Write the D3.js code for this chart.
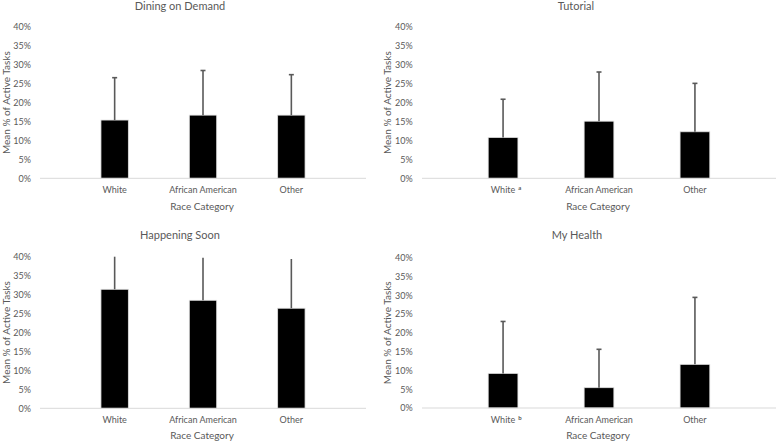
<!DOCTYPE html>
<html>
<head>
<meta charset="utf-8">
<script src="https://cdn.jsdelivr.net/npm/d3@7"></script>
<style>
  html, body { margin: 0; padding: 0; background: #fff; }
  svg { display: block; }
  text { font-family: Lato, "Liberation Sans", sans-serif; fill: #595959; }
</style>
</head>
<body>
<svg id="chart" width="778" height="443"></svg>
<script>
// ---- data ----
const categories = ["White", "African American", "Other"];
const yTicks = [0, 5, 10, 15, 20, 25, 30, 35, 40];
const panelTitles = ["Dining on Demand", "Tutorial", "Happening Soon", "My Health"];
const superscripts = [["", "", ""], ["a", "", ""], ["", "", ""], ["b", "", ""]];
const diningMeans = [15.4, 16.7, 16.7];
const diningErrTops = [26.6, 28.5, 27.4];
const tutorialMeans = [10.8, 15.1, 12.3];
const tutorialErrTops = [20.9, 28.1, 25.1];
const happeningMeans = [31.4, 28.5, 26.4];
const happeningErrTops = [40.1, 39.7, 39.4];
const healthMeans = [9.2, 5.4, 11.6];
const healthErrTops = [23.0, 15.6, 29.4];
const yAxisTitle = "Mean % of Active Tasks";
const xAxisTitle = "Race Category";

const panelMeans = [diningMeans, tutorialMeans, happeningMeans, healthMeans];
const panelErrTops = [diningErrTops, tutorialErrTops, happeningErrTops, healthErrTops];

// ---- layout ----
const layouts = [
  { x0: 40, x1: 366, yTop: 27, yBot: 178.3, tickX: 31, yTitleX: 7, titleX: 180, titleY: 7.5, xLabY: 191, xTitleY: 207 },
  { x0: 422, x1: 776, yTop: 27, yBot: 178.3, tickX: 412.7, yTitleX: 388, titleX: 576, titleY: 7.5, xLabY: 191, xTitleY: 207 },
  { x0: 40, x1: 366, yTop: 256.7, yBot: 408.3, tickX: 31, yTitleX: 7, titleX: 180, titleY: 236, xLabY: 421, xTitleY: 436.5 },
  { x0: 422, x1: 776, yTop: 257.5, yBot: 408, tickX: 412.7, yTitleX: 388, titleX: 577, titleY: 236, xLabY: 421, xTitleY: 436.5 }
];

const svg = d3.select("#chart");

layouts.forEach((L, i) => {
  const g = svg.append("g");
  const x = d3.scaleBand().domain(categories).range([L.x0, L.x1]).padding(0.69);
  const y = d3.scaleLinear().domain([0, 40]).range([L.yBot, L.yTop]);

  // title
  g.append("text").attr("x", L.titleX).attr("y", L.titleY)
    .attr("text-anchor", "middle").attr("dominant-baseline", "middle")
    .style("font-size", "11px").text(panelTitles[i]);

  // y axis ticks (labels only)
  const yAxis = d3.axisLeft(y).tickValues(yTicks).tickSize(0).tickPadding(0)
    .tickFormat(d => d + "%");
  const ya = g.append("g").attr("transform", `translate(${L.tickX},0)`).call(yAxis);
  ya.select(".domain").remove();
  ya.selectAll("text").style("font-size", "9px").style("font-family", "Lato, 'Liberation Sans', sans-serif").attr("fill", "#595959");

  // y title
  g.append("text")
    .attr("transform", `translate(${L.yTitleX},${(L.yTop + L.yBot) / 2}) rotate(-90)`)
    .attr("text-anchor", "middle").attr("dominant-baseline", "middle")
    .style("font-size", "10px").text(yAxisTitle);

  // bars
  const means = panelMeans[i];
  const errs = panelErrTops[i];
  g.selectAll("rect.bar").data(categories).enter().append("rect")
    .attr("class", "bar")
    .attr("x", d => x(d))
    .attr("width", x.bandwidth())
    .attr("y", (d, k) => y(means[k]))
    .attr("height", (d, k) => y(0) - y(means[k]))
    .attr("fill", "#000").attr("stroke", "#e0e0e0").attr("stroke-width", 0.8);

  // error bars (clipped at the plot top)
  const clipTop = y(40);
  g.selectAll("line.err").data(categories).enter().append("line")
    .attr("x1", d => x(d) + x.bandwidth() / 2)
    .attr("x2", d => x(d) + x.bandwidth() / 2)
    .attr("y1", (d, k) => y(means[k]))
    .attr("y2", (d, k) => Math.max(clipTop, y(errs[k])))
    .attr("stroke", "#595959").attr("stroke-width", 1.6);
  g.selectAll("line.cap").data(categories.filter((d, k) => errs[k] < 38)).enter().append("line")
    .attr("x1", d => x(d) + x.bandwidth() / 2 - 2.5)
    .attr("x2", d => x(d) + x.bandwidth() / 2 + 2.5)
    .attr("y1", d => y(errs[categories.indexOf(d)]))
    .attr("y2", d => y(errs[categories.indexOf(d)]))
    .attr("stroke", "#595959").attr("stroke-width", 1.6);

  // x axis line
  const xAxis = d3.axisBottom(x).tickSize(0).tickPadding(0).tickFormat("");
  const xa = g.append("g").attr("transform", `translate(0,${L.yBot})`).call(xAxis);
  xa.select(".domain").attr("stroke", "#d9d9d9").attr("stroke-width", 1)
    .attr("d", `M${L.x0},0H${L.x1}`);

  // x tick labels
  categories.forEach((c, k) => {
    const t = g.append("text").attr("x", x(c) + x.bandwidth() / 2).attr("y", L.xLabY)
      .attr("text-anchor", "middle").attr("dominant-baseline", "middle")
      .style("font-size", "9px").text(c);
    const sup = superscripts[i][k];
    if (sup) {
      const w = t.node().getComputedTextLength();
      g.append("text").attr("x", x(c) + x.bandwidth() / 2 + w / 2 + 3).attr("y", L.xLabY - 3)
        .attr("dominant-baseline", "middle")
        .style("font-size", "6px").style("font-weight", "bold").text(sup);
    }
  });

  // x title
  g.append("text").attr("x", (L.x0 + L.x1) / 2 - 1).attr("y", L.xTitleY)
    .attr("text-anchor", "middle").attr("dominant-baseline", "middle")
    .style("font-size", "10px").text(xAxisTitle);
});
</script>
</body>
</html>
